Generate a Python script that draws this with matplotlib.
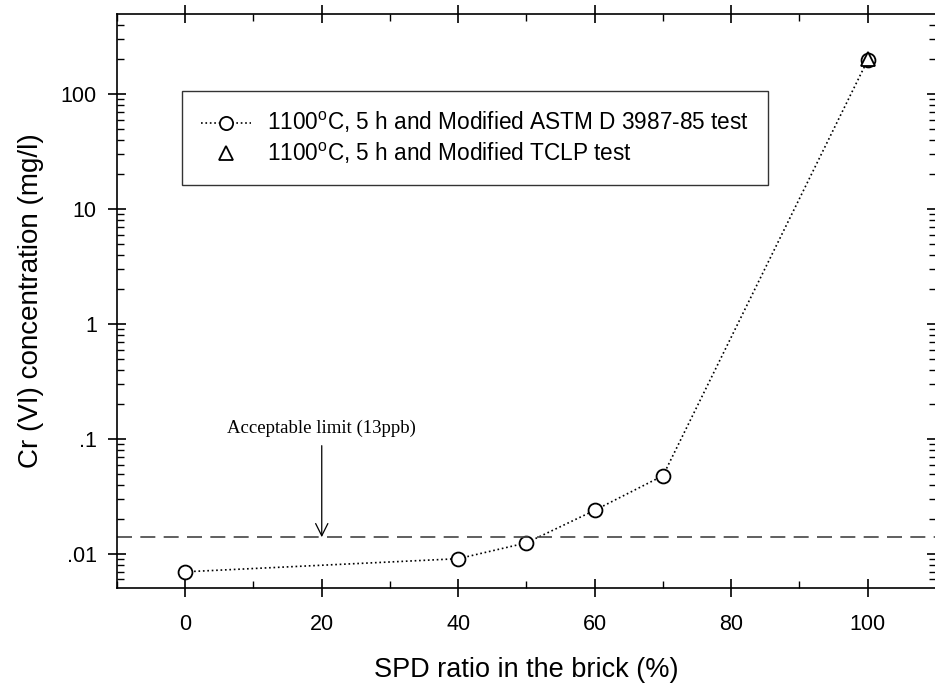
import numpy as np
import matplotlib
matplotlib.use("Agg")
import matplotlib.pyplot as plt
import matplotlib.ticker as mticker

plt.rcParams['font.family'] = ['Liberation Sans', 'DejaVu Sans']
plt.rcParams['mathtext.fontset'] = 'custom'
plt.rcParams['mathtext.rm'] = 'Liberation Sans'

# data
spd_ratio = [0, 40, 50, 60, 70, 100]
cr_astm = [0.0070, 0.0091, 0.0125, 0.024, 0.048, 198]
tclp_x = [100]
cr_tclp = [200]
limit = 0.014
limit_label = "Acceptable limit (13ppb)"

x_ticks = [0, 20, 40, 60, 80, 100]
y_ticks = [0.01, 0.1, 1, 10, 100]
y_ticklabels = [".01", ".1", "1", "10", "100"]

fig = plt.figure(figsize=(9.35, 6.85), dpi=100)
ax = fig.add_axes([117/935, 1 - 588/685, (936 - 117)/935, (588 - 14)/685])

ax.plot(spd_ratio, cr_astm, linestyle=':', color='black', linewidth=1.2,
        marker='o', markersize=10, markerfacecolor='white', markeredgecolor='black',
        markeredgewidth=1.3, label="1100$^{\\rm o}$C, 5 h and Modified ASTM D 3987-85 test")
ax.plot(tclp_x, cr_tclp, linestyle='none', color='black',
        marker='^', markersize=10, markerfacecolor='white', markeredgecolor='black',
        markeredgewidth=1.3, label="1100$^{\\rm o}$C, 5 h and Modified TCLP test")

ax.axhline(limit, color='#444444', linestyle=(0, (9, 5)), linewidth=1.2)
ax.annotate("", xy=(20, limit), xytext=(20, 0.0875),
            arrowprops=dict(arrowstyle='->', color='black', lw=0.9,
                            mutation_scale=22, shrinkA=0, shrinkB=0))
ax.text(20, 0.105, limit_label, family='Liberation Serif', fontsize=13.5,
        ha='center', va='bottom')

ax.set_yscale('log')
ax.set_xlim(-10, 110)
ax.set_ylim(0.00506, 497)

ax.set_xticks(x_ticks)
ax.xaxis.set_minor_locator(mticker.MultipleLocator(10))
ax.yaxis.set_major_locator(mticker.FixedLocator(y_ticks))
ax.yaxis.set_major_formatter(mticker.FixedFormatter(y_ticklabels))
ax.yaxis.set_minor_locator(mticker.LogLocator(base=10, subs=np.arange(2, 10)))
ax.yaxis.set_minor_formatter(mticker.NullFormatter())

ax.tick_params(which='major', direction='inout', length=13, width=1.2,
               top=True, right=True, labelsize=15.5)
ax.tick_params(axis='x', which='major', pad=12)
ax.tick_params(axis='y', which='major', pad=8)
ax.tick_params(which='minor', direction='in', length=5, width=1.0,
               top=True, right=True)
for s in ax.spines.values():
    s.set_linewidth(1.2)

ax.set_xlabel("SPD ratio in the brick (%)", fontsize=19.5, labelpad=16)
ax.set_ylabel("Cr (VI) concentration (mg/l)", fontsize=20, labelpad=12)

leg = ax.legend(loc='upper left', bbox_to_anchor=(65/819, 1 - 77/574),
                fontsize=16.3, frameon=True, fancybox=False, edgecolor='black',
                markerscale=0.95, handlelength=2.2, borderpad=0.85,
                labelspacing=0.22, handletextpad=0.7, borderaxespad=0)
leg.get_frame().set_linewidth(1.0)

fig.savefig("out.png", dpi=100)
